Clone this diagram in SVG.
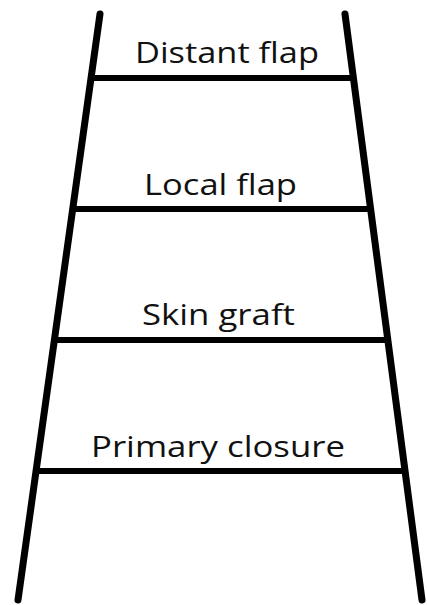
<svg xmlns="http://www.w3.org/2000/svg" width="427" height="605" viewBox="0 0 427 605">
<style>
.rail{stroke:#000;stroke-width:7;stroke-linecap:round;fill:none}
.rung{stroke:#000;stroke-width:6;fill:none}
.lbl{font-family:"Open Sans","Liberation Sans",sans-serif;font-size:29px;fill:#111}
</style>
<rect width="427" height="605" fill="#fff"/>
<g id="rails">
<line class="rail" x1="100" y1="14" x2="18" y2="600"/>
<line class="rail" x1="345" y1="14" x2="422" y2="600"/>
</g>
<g id="connectors">
<line class="rung" x1="91" y1="78" x2="354" y2="78"/>
<line class="rung" x1="73" y1="209" x2="371" y2="209"/>
<line class="rung" x1="55" y1="340" x2="388" y2="340"/>
<line class="rung" x1="36" y1="471" x2="406" y2="471"/>
</g>
<g id="distant"><text class="lbl" x="135" y="63" textLength="184" lengthAdjust="spacingAndGlyphs">Distant flap</text></g>
<g id="local"><text class="lbl" x="144" y="195" textLength="153" lengthAdjust="spacingAndGlyphs">Local flap</text></g>
<g id="skin"><text class="lbl" x="142" y="325" textLength="153" lengthAdjust="spacingAndGlyphs">Skin graft</text></g>
<g id="primary"><text class="lbl" x="91" y="457" textLength="254" lengthAdjust="spacingAndGlyphs">Primary closure</text></g>
</svg>
